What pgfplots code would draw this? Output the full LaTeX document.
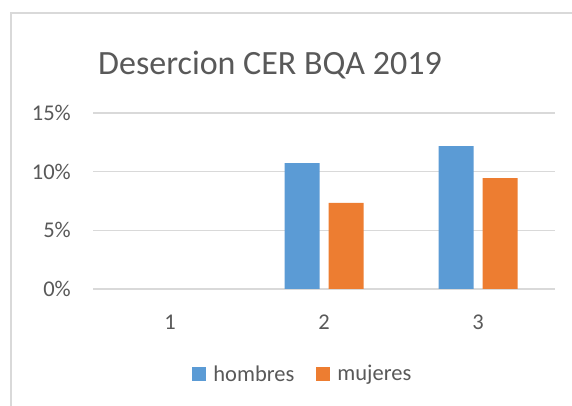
\documentclass[border=0pt]{standalone}
\usepackage{pgfplots}
\pgfplotsset{compat=1.18}
\usepackage{fontspec}
\setmainfont{Carlito}
\definecolor{txt}{HTML}{595959}
\definecolor{gridc}{HTML}{D9D9D9}
\definecolor{cblue}{HTML}{5B9BD5}
\definecolor{corange}{HTML}{ED7D31}
\begin{document}
\begin{tikzpicture}[x=1pt,y=1pt]
\useasboundingbox (0,0) rectangle (572,406);
\fill[white] (0,0) rectangle (572,406);
\draw[gridc, line width=1.3pt] (11,-10) rectangle (600,393);
\node[anchor=base, text=txt, font=\fontsize{34}{40}\selectfont, inner sep=0] at (270,331) {Desercion CER BQA 2019};
\begin{axis}[
  at={(93pt,117pt)}, anchor=south west,
  scale only axis, width=462pt, height=176pt,
  xmin=0.5, xmax=3.5, ymin=0, ymax=15,
  ybar=9pt, bar width=35pt,
  axis line style={draw=none},
  major tick length=0pt,
  ymajorgrids, grid style={gridc, line width=1.3pt},
  xtick={1,2,3}, xticklabels={1,2,3},
  ytick={0,5,10,15}, yticklabels={0\%,5\%,10\%,15\%},
  ticklabel style={text=txt, font=\fontsize{22.5}{26}\selectfont, inner sep=0pt},
  yticklabel style={anchor=east, xshift=-22pt},
  xticklabel style={anchor=north, yshift=-26pt},
  legend columns=2,
  legend style={draw=none, fill=none, at={(0.452,-0.483)}, anchor=center,
    nodes={inner sep=0pt, text=txt, font=\fontsize{22.5}{26}\selectfont},
    /tikz/every even column/.append style={column sep=22pt}},
  legend image code/.code={\fill[#1] (0pt,-7pt) rectangle (14pt,7pt); \path (21pt,0pt);},
]
% category 1 has value 0 for both series (no visible bar)
\addplot[fill=cblue, draw=none] coordinates {(2,10.73) (3,12.18)};
\addplot[fill=corange, draw=none] coordinates {(2,7.33) (3,9.45)};
\legend{hombres, mujeres}
\end{axis}
\end{tikzpicture}
\end{document}
